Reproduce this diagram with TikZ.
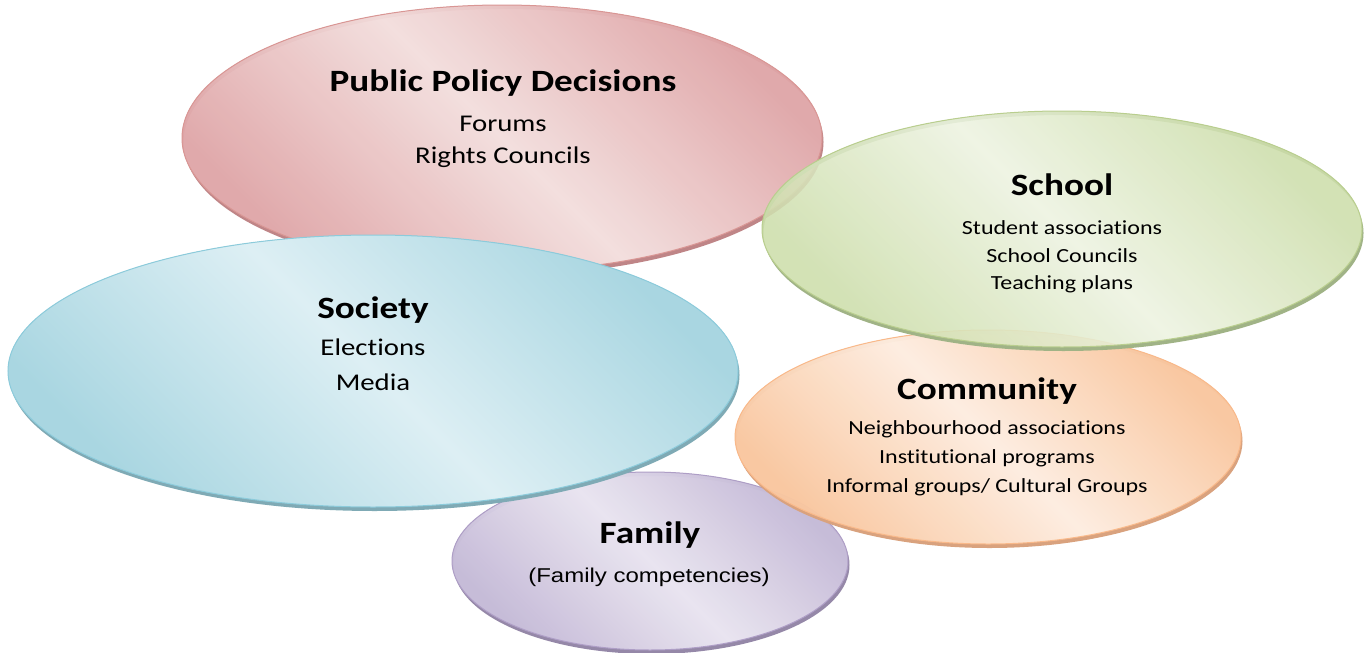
\documentclass[tikz,border=0pt]{standalone}
\usepackage{fontspec}
\newfontfamily\calfont[FakeStretch=1.2, Ligatures=NoCommon]{Carlito}
\newfontfamily\arfont[FakeStretch=1.2]{Liberation Sans}
\definecolor{pinkL}{HTML}{F3DEDD}
\definecolor{pinkD}{HTML}{DFA5A7}
\definecolor{pinkB}{HTML}{D99694}
\definecolor{pinkR}{HTML}{BF8587}
\definecolor{greenL}{HTML}{EDF3E1}
\definecolor{greenD}{HTML}{CDDEAB}
\definecolor{greenB}{HTML}{B9CE8E}
\definecolor{greenR}{HTML}{A0B386}
\definecolor{blueL}{HTML}{DDEFF4}
\definecolor{blueD}{HTML}{A9D6E1}
\definecolor{blueB}{HTML}{8CCBDB}
\definecolor{blueR}{HTML}{7FAAB5}
\definecolor{orangeL}{HTML}{FDEDE0}
\definecolor{orangeD}{HTML}{F9C7A0}
\definecolor{orangeB}{HTML}{F9B98A}
\definecolor{orangeR}{HTML}{D9A27E}
\definecolor{purpleL}{HTML}{E9E4F0}
\definecolor{purpleD}{HTML}{C5BAD7}
\definecolor{purpleB}{HTML}{AE9EC6}
\definecolor{purpleR}{HTML}{9588A8}
\pgfdeclarehorizontalshading{pinkSh}{100bp}{color(0bp)=(pinkD); color(25bp)=(pinkD); color(50bp)=(pinkL); color(75bp)=(pinkD); color(100bp)=(pinkD)}
\pgfdeclarehorizontalshading{greenSh}{100bp}{color(0bp)=(greenD); color(25bp)=(greenD); color(50bp)=(greenL); color(75bp)=(greenD); color(100bp)=(greenD)}
\pgfdeclarehorizontalshading{blueSh}{100bp}{color(0bp)=(blueD); color(25bp)=(blueD); color(50bp)=(blueL); color(75bp)=(blueD); color(100bp)=(blueD)}
\pgfdeclarehorizontalshading{orangeSh}{100bp}{color(0bp)=(orangeD); color(25bp)=(orangeD); color(50bp)=(orangeL); color(75bp)=(orangeD); color(100bp)=(orangeD)}
\pgfdeclarehorizontalshading{purpleSh}{100bp}{color(0bp)=(purpleD); color(25bp)=(purpleD); color(50bp)=(purpleL); color(75bp)=(purpleD); color(100bp)=(purpleD)}
\newcommand\mybubble[6]{%
  % #1 cx, #2 cy, #3 rx, #4 ry, #5 colour prefix, #6 opacity
  \fill[#5R, even odd rule] (#1+1.5,#2-4) ellipse [x radius=#3pt, y radius=#4pt]
                            (#1,#2) ellipse [x radius=#3pt, y radius=#4pt];
  \shade[shading=#5Sh, shading angle=45, fill opacity=#6] (#1,#2) ellipse [x radius=#3pt, y radius=#4pt];
  \draw[#5B, line width=1pt] (#1,#2) ellipse [x radius=#3pt, y radius=#4pt];
}
\tikzset{
  titletext/.style={font=\calfont\bfseries\fontsize{31}{31}\selectfont, anchor=base, inner sep=0pt},
  bodylarge/.style={font=\calfont\fontsize{24}{24}\selectfont, anchor=base, inner sep=0pt},
  bodysmall/.style={font=\calfont\fontsize{20}{20}\selectfont, anchor=base, inner sep=0pt},
  bodyarial/.style={font=\arfont\fontsize{20}{20}\selectfont, anchor=base, inner sep=0pt},
}
\begin{document}
\begin{tikzpicture}[x=1pt, y=1pt]
\useasboundingbox (0,0) rectangle (1368,-653);
\fill[white] (0,0) rectangle (1368,-653);
% ellipses in stacking order
\mybubble{502}{-138}{320}{133}{pink}{0.95}
\mybubble{650}{-561}{198}{89}{purple}{0.97}
\mybubble{373}{-371}{365}{136}{blue}{1}
\mybubble{988}{-437}{253}{107}{orange}{0.97}
\mybubble{1062}{-229}{300}{118}{green}{0.88}
% texts
\node[titletext] (ppdT) at (503,-91) {Public Policy Decisions};
\node[bodylarge] (ppd1) at (503,-131) {Forums};
\node[bodylarge] (ppd2) at (503,-163) {Rights Councils};
\node[titletext] (schT) at (1062,-195) {School};
\node[bodysmall] (sch1) at (1062,-234) {Student associations};
\node[bodysmall] (sch2) at (1062,-262) {School Councils};
\node[bodysmall] (sch3) at (1062,-289) {Teaching plans};
\node[titletext] (socT) at (373,-318) {Society};
\node[bodylarge] (soc1) at (373,-355) {Elections};
\node[bodylarge] (soc2) at (373,-390) {Media};
\node[titletext] (comT) at (987,-399) {Community};
\node[bodysmall] (com1) at (987,-434) {Neighbourhood associations};
\node[bodysmall] (com2) at (987,-463) {Institutional programs};
\node[bodysmall] (com3) at (987,-492) {Informal groups/ Cultural Groups};
\node[titletext] (famT) at (650,-543) {Family};
\node[bodyarial] (fam1) at (649,-582) {(Family competencies)};
\end{tikzpicture}
\end{document}
